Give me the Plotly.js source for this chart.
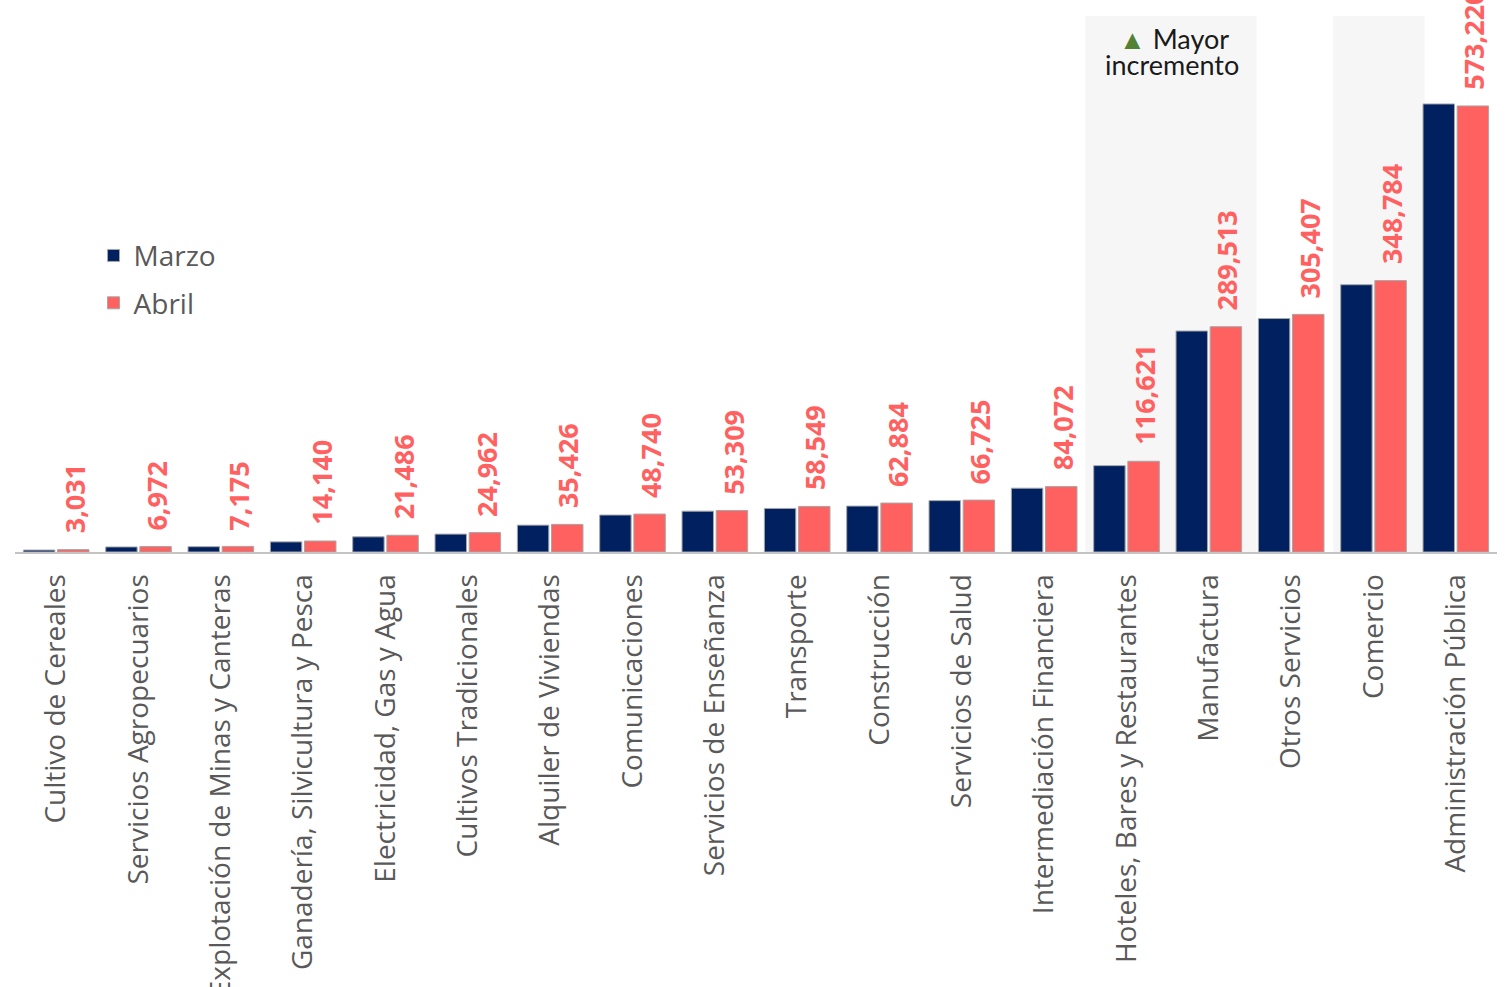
<!DOCTYPE html>
<html>
<head>
<meta charset="utf-8">
<script src="https://cdn.plot.ly/plotly-3.0.1.min.js"></script>
<style>html,body{margin:0;padding:0;background:#fff;}#chart{width:1506px;height:987px;}</style>
</head>
<body>
<div id="chart"></div>
<script>
const categories = [
  "Cultivo de Cereales", "Servicios Agropecuarios", "Explotación de Minas y Canteras",
  "Ganadería, Silvicultura y Pesca", "Electricidad, Gas y Agua", "Cultivos Tradicionales",
  "Alquiler de Viviendas", "Comunicaciones", "Servicios de Enseñanza", "Transporte",
  "Construcción", "Servicios de Salud", "Intermediación Financiera",
  "Hoteles, Bares y Restaurantes", "Manufactura", "Otros Servicios", "Comercio",
  "Administración Pública"
];
const marzo = [2500, 6500, 6800, 13000, 19500, 23000, 34500, 47500, 52500, 56000,
  59000, 66000, 82000, 111000, 284000, 300000, 343500, 575800];
const abril = [3031, 6972, 7175, 14140, 21486, 24962, 35426, 48740, 53309, 58549,
  62884, 66725, 84072, 116621, 289513, 305407, 348784, 573220];
const seriesNames = ["Marzo", "Abril"];
const noteLines = ["Mayor", "incremento"];

const navy = "#002060";
const salmon = "#FF6161";
const grey = "#595959";

const fmt = v => v.toLocaleString("en-US");

const traces = [
  {type: "bar", name: seriesNames[0], x: categories, y: marzo, legendgroup: "a",
   marker: {color: navy, line: {color: "#a6a6a6", width: 1}}, hoverinfo: "x+y"},
  {type: "bar", name: seriesNames[1], x: categories, y: abril, legendgroup: "b",
   marker: {color: salmon, line: {color: "#a6a6a6", width: 1}}, hoverinfo: "x+y"}
];

const annotations = categories.map((c, i) => ({
  x: c, y: abril[i], xref: "x", yref: "y",
  text: fmt(abril[i]), showarrow: false, textangle: -90,
  xanchor: "center", yanchor: "bottom", xshift: 18, yshift: 14,
  font: {family: "Open Sans, sans-serif", size: 27, color: salmon, weight: 700}
}));
annotations.push({
  xref: "paper", yref: "paper", x: 0.782, y: 0.931, xanchor: "center", yanchor: "middle",
  showarrow: false,
  text: '<span style="color:#548235">▲</span> ' + noteLines[0],
  font: {family: "Lato, sans-serif", size: 27, color: "#1a1a1a"}
});
annotations.push({
  xref: "paper", yref: "paper", x: 0.781, y: 0.884, xanchor: "center", yanchor: "middle",
  showarrow: false,
  text: noteLines[1],
  font: {family: "Lato, sans-serif", size: 27, color: "#1a1a1a"}
});

const layout = {
  width: 1506, height: 987,
  margin: {l: 15, r: 9, t: 0, b: 435},
  paper_bgcolor: "#ffffff", plot_bgcolor: "rgba(0,0,0,0)",
  barmode: "group", bargap: 0.17, bargroupgap: 0.08,
  showlegend: true,
  legend: {x: 0.053, y: 0.582, xanchor: "left", yanchor: "top",
    traceorder: "grouped", tracegroupgap: 8,
    font: {family: "Open Sans, sans-serif", size: 28, color: grey},
    bgcolor: "rgba(0,0,0,0)"},
  xaxis: {type: "category", tickangle: -90, showgrid: false, zeroline: false,
    showline: true, linecolor: "#c4c4c4", linewidth: 2,
    ticks: "", ticklabelstandoff: 9,
    tickfont: {family: "Open Sans, sans-serif", size: 28, color: grey}},
  yaxis: {range: [0, 709400], visible: false, showgrid: false, zeroline: false},
  shapes: [
    {type: "rect", xref: "x", yref: "paper", x0: 12.5, x1: 14.58, y0: 0, y1: 0.971,
     fillcolor: "#f6f6f6", line: {width: 0}, layer: "below"},
    {type: "rect", xref: "x", yref: "paper", x0: 15.51, x1: 16.62, y0: 0, y1: 0.971,
     fillcolor: "#f6f6f6", line: {width: 0}, layer: "below"}
  ],
  annotations: annotations,
  font: {family: "Open Sans, sans-serif"}
};

Plotly.newPlot("chart", traces, layout, {displayModeBar: false, staticPlot: true});
</script>
</body>
</html>
